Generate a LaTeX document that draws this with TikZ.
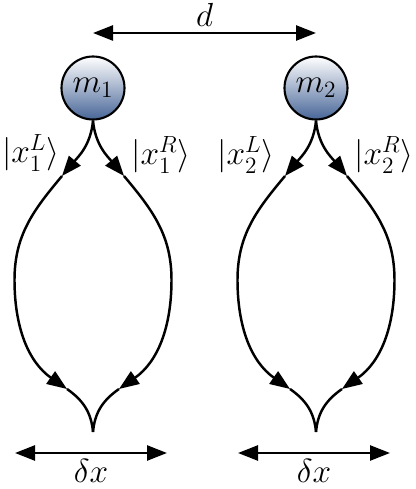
\documentclass[tikz,border=0pt]{standalone}
\usepackage{fix-cm}
\usepackage{amsmath}
\usepackage{xcolor}
\usepackage{tikz}
\usetikzlibrary{positioning,arrows.meta}
\definecolor{massblue}{RGB}{72,102,152}

\begin{document}
\begin{tikzpicture}[
    mass/.style={circle, draw=black, line width=1.2pt, minimum size=1.26cm,
                 inner sep=0pt, top color=white, bottom color=massblue,
                 font=\fontsize{19}{22}\selectfont},
    wire/.style={line width=1.4pt},
    tipped/.style={wire, -{Triangle[length=0.4cm, width=0.3cm]}},
    twoway/.style={wire, {Triangle[length=0.4cm, width=0.3cm]}-{Triangle[length=0.4cm, width=0.3cm]}},
    lbl/.style={font=\fontsize{19}{22}\selectfont, inner sep=1pt}]
  \useasboundingbox (0,0) rectangle (8.3,9.78);
  % masses
  \node[mass] (m1) at (1.86,8.02) {$m_1$};
  \node[mass] (m2) at (6.32,8.02) {$m_2$};
  % separation
  \coordinate (dl) at (1.86,9.12);
  \coordinate (dr) at (6.32,9.12);
  \draw[twoway] (dl) -- (dr) node[lbl, midway, above=0.08cm] (d) {$d$};
  % branches of mass 1
  \coordinate (ul1) at (1.24,6.26);
  \coordinate (ur1) at (2.48,6.26);
  \coordinate (wl1) at (0.29,4.18);
  \coordinate (wr1) at (3.43,4.18);
  \coordinate (ll1) at (1.34,2.00);
  \coordinate (lr1) at (2.38,2.00);
  \coordinate (b1)  at (1.86,1.14);
  \draw[tipped] (m1.south) to[out=-95, in=50] (ul1);
  \draw[tipped] (m1.south) to[out=-85, in=130] (ur1);
  \draw[wire] (ul1) to[out=-130, in=90] (wl1);
  \draw[wire] (ur1) to[out=-50, in=90] (wr1);
  \draw[tipped] (wl1) to[out=-90, in=145] (ll1);
  \draw[tipped] (wr1) to[out=-90, in=35] (lr1);
  \draw[wire] (ll1) to[out=-35, in=95] (b1);
  \draw[wire] (lr1) to[out=-145, in=85] (b1);
  % branches of mass 2
  \coordinate (ul2) at (5.70,6.26);
  \coordinate (ur2) at (6.94,6.26);
  \coordinate (wl2) at (4.75,4.18);
  \coordinate (wr2) at (7.89,4.18);
  \coordinate (ll2) at (5.80,2.00);
  \coordinate (lr2) at (6.84,2.00);
  \coordinate (b2)  at (6.32,1.14);
  \draw[tipped] (m2.south) to[out=-95, in=50] (ul2);
  \draw[tipped] (m2.south) to[out=-85, in=130] (ur2);
  \draw[wire] (ul2) to[out=-130, in=90] (wl2);
  \draw[wire] (ur2) to[out=-50, in=90] (wr2);
  \draw[tipped] (wl2) to[out=-90, in=145] (ll2);
  \draw[tipped] (wr2) to[out=-90, in=35] (lr2);
  \draw[wire] (ll2) to[out=-35, in=95] (b2);
  \draw[wire] (lr2) to[out=-145, in=85] (b2);
  % state labels
  \node[lbl, anchor=west] (x1l) at (0.00,6.72) {$|x_1^L\rangle$};
  \node[lbl] (x1r) at (3.22,6.68) {$|x_1^R\rangle$};
  \node[lbl] (x2l) at (4.92,6.68) {$|x_2^L\rangle$};
  \node[lbl] (x2r) at (7.68,6.68) {$|x_2^R\rangle$};
  % spreads
  \coordinate (sl1) at (0.30,0.72);
  \coordinate (sr1) at (3.34,0.72);
  \coordinate (sl2) at (4.76,0.72);
  \coordinate (sr2) at (7.80,0.72);
  \draw[twoway] (sl1) -- (sr1) node[lbl, midway, below=0.06cm] (dx1) {$\delta x$};
  \draw[twoway] (sl2) -- (sr2) node[lbl, midway, below=0.06cm] (dx2) {$\delta x$};
\end{tikzpicture}
\end{document}
